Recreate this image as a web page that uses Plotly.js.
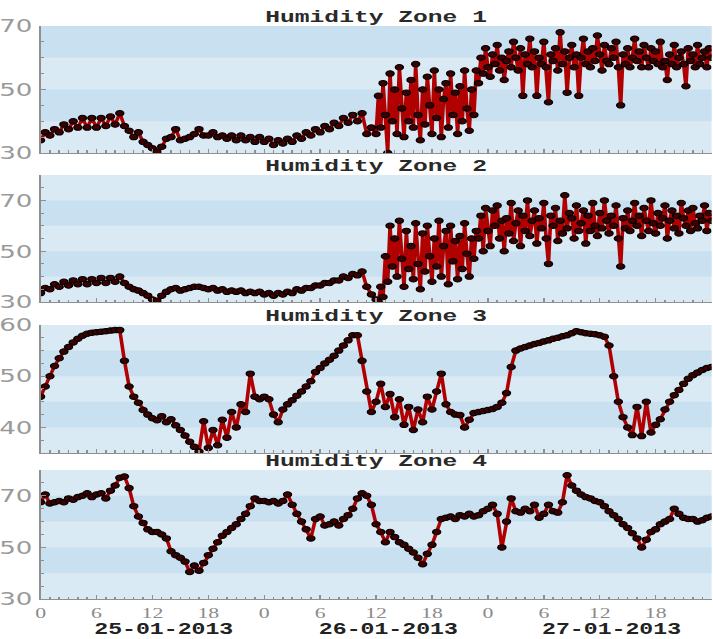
<!DOCTYPE html>
<html>
<head>
<meta charset="utf-8">
<script src="https://cdn.plot.ly/plotly-3.0.1.min.js"></script>
<style>
html,body{margin:0;padding:0;overflow:hidden;background:#ffffff;width:713px;height:639px;}
#chart{width:492px;height:639px;transform:scaleX(1.44919);transform-origin:0 0;}
</style>
</head>
<body>
<div id="chart"></div>
<script>
// ---------------- DATA ----------------
const zoneTitles = ['Humidity Zone 1', 'Humidity Zone 2', 'Humidity Zone 3', 'Humidity Zone 4'];
const dayLabels = ['25-01-2013', '26-01-2013', '27-01-2013'];
const hourTickValues = [0, 6, 12, 18, 24, 30, 36, 42, 48, 54, 60, 66, 72];
const hourTickLabels = ['0', '6', '12', '18', '0', '6', '12', '18', '0', '6', '12', '18', '0'];

// Zone 1: readings every 30 min from 0 h to 35.5 h
const zone1Calm = [
  34, 36.5, 35.5, 37.5, 36.5, 39, 37.5, 40, 38, 41, 38, 41, 38, 41, 38.5, 41.5,
  39, 42.5, 38.5, 37, 35, 36.5, 33.5, 32.5, 31.5, 30.5, 32, 34.5, 35, 37.5, 34, 34.5,
  35, 36, 37.5, 35.5, 35.5, 36.5, 35, 35.5, 34.5, 35.5, 34, 35.5, 34, 35, 33.5, 35,
  33.5, 34.5, 32.5, 34, 33, 34.5, 33.5, 35.5, 34.5, 36.5, 35.5, 37.5, 36.5, 38.5, 37.5, 39.5,
  38.5, 41, 39.5, 42, 40, 42.5, 36, 38
];
// Zone 1: readings every 15 min from 36 h to 72 h
const zone1Noisy = [
  36, 48, 38, 52,  42, 30, 55, 40,  50, 36, 57, 44,  35, 49, 40, 53,
  38, 58, 42, 34,  50, 39, 54, 45,  36, 56, 41, 50,  35, 47, 52, 38,
  55, 42, 49, 36,  51, 40, 56, 44,  37, 50, 42, 56,  52, 60, 55, 63,
  57, 54, 61, 58,  64, 56, 60, 53,  59, 62, 57, 65,  60, 56, 63, 48,
  61, 58, 66, 57,  62, 48, 60, 58,  65, 57, 46, 61,  59, 63, 56, 68,
  58, 62, 49, 60,  64, 57, 61, 48,  60, 66, 58, 62,  57, 63, 59, 67,
  61, 56, 64, 59,  58, 63, 60, 65,  57, 45, 61, 58,  63, 57, 60, 66,
  59, 62, 57, 64,  60, 57, 63, 59,  62, 58, 65, 57,  59, 53, 61, 58,
  64, 57, 60, 62,  58, 51, 63, 59,  61, 57, 64, 58,  60, 62, 57, 63,
  60
];

// Zone 2: readings every 30 min from 0 h to 35.5 h
const zone2Calm = [
  33.5, 35.5, 35, 37, 36, 38, 36.5, 38.5, 37, 39, 37, 39, 37.5, 39.5, 37.5, 39.5,
  38, 40, 37.5, 36, 35, 34.5, 33.5, 32.5, 31, 30.5, 32.5, 34, 35, 35.5, 34.5, 35,
  35.5, 36, 36, 35.5, 35, 35.5, 34.5, 35, 34, 34.5, 34, 34.5, 33.5, 34, 33.5, 34,
  33, 33.5, 32.5, 33.5, 33, 34, 33.5, 35, 34.5, 35.5, 35.5, 36.5, 36.5, 37.5, 37.5, 38.5,
  38.5, 40, 39.5, 41, 40.5, 42, 36, 33
];
// Zone 2: readings every 15 min from 36 h to 72 h
const zone2Noisy = [
  31, 30, 36, 32,  48, 38, 60, 44,  55, 40, 62, 47,  36, 58, 43, 52,
  39, 61, 45, 35,  57, 42, 60, 48,  38, 55, 44, 62,  40, 52, 58, 37,
  60, 46, 54, 39,  56, 43, 61, 49,  40, 55, 47, 58,  55, 64, 50, 67,
  58, 52, 66, 60,  68, 55, 62, 50,  63, 57, 69, 54,  61, 66, 52, 64,
  58, 70, 56, 62,  66, 53, 63, 59,  69, 55, 45, 64,  60, 67, 54, 62,
  57, 72, 59, 65,  63, 55, 68, 58,  61, 66, 53, 64,  58, 69, 60, 56,
  65, 59, 70, 62,  57, 64, 60, 68,  55, 44, 63, 59,  66, 58, 62, 69,
  60, 64, 56, 67,  62, 58, 70, 61,  57, 65, 60, 63,  68, 55, 62, 66,
  59, 64, 57, 69,  63, 60, 66, 58,  67, 61, 59, 64,  62, 68, 58, 65,
  62
];

// Zone 3: readings every 30 min from 0 h to 72 h
const zone3 = [
  46, 48, 50, 52, 53.5, 54.8, 55.7, 56.6, 57.3, 57.9, 58.3, 58.5, 58.6, 58.7, 58.8, 58.9,
  59, 59, 53, 48, 46, 44.8, 43.4, 42.5, 41.8, 41.4, 42.2, 41, 41.6, 40.4, 39.5, 38.4,
  37.2, 36.2, 35.3, 41.2, 36, 39.5, 36.5, 41.5, 38, 43, 40, 44.5, 43, 50.5, 46, 45.5,
  46, 45.5, 42.5, 41, 43.5, 44.5, 45.3, 46.2, 47, 48, 49, 50.8, 51.6, 52.5, 53.2, 54,
  55, 56, 57, 58, 58, 53, 47, 43, 45, 48.5, 44, 46.5, 42, 45.5, 40.5, 44,
  39.5, 43.5, 41, 46, 43.5, 47, 50.5, 44.5, 43, 42.5, 42.4, 40, 41.5, 42.8, 43, 43.2,
  43.4, 43.6, 44, 44.8, 46.7, 51.8, 55, 55.4, 55.7, 56, 56.3, 56.5, 56.8, 57, 57.3, 57.5,
  57.8, 58, 58.4, 58.8, 58.6, 58.4, 58.3, 58.2, 58, 57.7, 56, 50, 45, 42, 40, 38.5,
  44, 38.3, 45, 39, 40.5, 41.6, 43.5, 45, 46.3, 47.3, 48.5, 49.5, 50.2, 50.7, 51.2, 51.6,
  51.8
];

// Zone 4: readings every 30 min from 0 h to 72 h
const zone4 = [
  67.5, 70.5, 67, 67.5, 68, 67.5, 69, 68.5, 69.5, 70, 71, 69.5, 70.5, 71, 69, 72,
  74, 77, 77.5, 73, 66, 62, 59.5, 57, 56, 56, 55, 53.5, 48.5, 47, 46, 44.5,
  40.5, 43, 41, 44, 47, 49.5, 52, 54.5, 56, 57.5, 59, 61, 63, 66, 69, 68,
  68, 67.5, 68, 67, 68, 70.5, 66.5, 63, 60, 57, 53.5, 61, 62, 58.5, 59, 60,
  58.5, 61, 62.5, 65, 69, 71, 70, 66.5, 59, 56, 52, 56, 54, 52, 51, 49.5,
  48, 46, 43.5, 47.5, 51, 56, 61, 61.5, 62, 61, 62.5, 62, 63, 62, 62.5, 64,
  65, 66.5, 63, 50, 60, 69, 64, 63.5, 65, 64, 66.5, 61.5, 63, 66.5, 64, 63.5,
  67.5, 78, 74, 72, 70.5, 69.5, 69, 68, 67.5, 66, 64, 62.5, 61, 59, 57.5, 55.5,
  53.5, 50, 53, 56, 57, 59, 60, 61, 65, 63, 61.5, 61, 61, 60, 60.5, 61.5,
  62
];

// Axis settings per panel
const yRanges = [[30, 70], [30, 80], [35, 60], [30, 80]];
const yTickValues = [[30, 50, 70], [30, 50, 70], [40, 50, 60], [30, 50, 70]];
const yMinorSteps = [5, 5, 2.5, 5];
// darker background stripes per panel: [from, to]
const darkBands = [
  [[40, 50], [60, 70]],
  [[40, 50], [60, 70]],
  [[40, 45], [50, 55]],
  [[40, 50], [60, 70]]
];

// ---------------- BUILD ----------------
function sampleTimes(start, step, count) {
  const t = [];
  for (let i = 0; i < count; i++) t.push(start + i * step);
  return t;
}

const series = [
  { t: sampleTimes(0, 0.5, zone1Calm.length).concat(sampleTimes(36, 0.25, zone1Noisy.length)), v: zone1Calm.concat(zone1Noisy) },
  { t: sampleTimes(0, 0.5, zone2Calm.length).concat(sampleTimes(36, 0.25, zone2Noisy.length)), v: zone2Calm.concat(zone2Noisy) },
  { t: sampleTimes(0, 0.5, zone3.length), v: zone3 },
  { t: sampleTimes(0, 0.5, zone4.length), v: zone4 }
];

const domains = [[0.7784, 1], [0.5183, 0.7400], [0.2548, 0.4782], [0, 0.2251]];
const lightBg = '#d9eaf5';
const darkBg = '#c8e0ef';
const axisGrey = '#8f8f8f';

const traces = [];
const layout = {
  width: 492,
  height: 639,
  margin: { l: 28, r: 1, t: 26, b: 40 },
  paper_bgcolor: '#ffffff',
  plot_bgcolor: lightBg,
  showlegend: false,
  shapes: [],
  annotations: []
};

series.forEach((s, i) => {
  const n = i + 1;
  const xa = 'x' + (n === 1 ? '' : n);
  const ya = 'y' + (n === 1 ? '' : n);
  traces.push({
    type: 'scatter',
    mode: 'lines+markers',
    x: s.t,
    y: s.v,
    xaxis: xa,
    yaxis: ya,
    line: { color: '#b00000', width: 2.5 },
    marker: { size: 5.5, color: '#3c0000', line: { color: '#000000', width: 1 } },
    hoverinfo: 'x+y'
  });
  const xKey = 'xaxis' + (n === 1 ? '' : n);
  const yKey = 'yaxis' + (n === 1 ? '' : n);
  layout[xKey] = {
    anchor: ya,
    domain: [0, 1],
    range: [0, 72],
    tickmode: 'array',
    tickvals: hourTickValues,
    ticktext: hourTickLabels,
    showticklabels: n === 4,
    ticks: 'inside',
    ticklen: 4,
    tickcolor: axisGrey,
    minor: { dtick: 1, ticks: 'inside', ticklen: 2.5, tickcolor: axisGrey },
    showline: true,
    linecolor: axisGrey,
    linewidth: 1,
    showgrid: false,
    zeroline: false,
    ticklabelstandoff: 0,
    tickfont: { family: 'Liberation Serif, serif', size: 15, color: '#8a8a8a' },
    fixedrange: true
  };
  if (n > 1) layout[xKey].matches = 'x';
  layout[yKey] = {
    anchor: xa,
    domain: domains[i],
    range: yRanges[i],
    tickmode: 'array',
    tickvals: yTickValues[i],
    ticks: 'inside',
    ticklen: 4,
    tickcolor: axisGrey,
    minor: { dtick: yMinorSteps[i], ticks: 'inside', ticklen: 2.5, tickcolor: axisGrey },
    showline: true,
    linecolor: axisGrey,
    linewidth: 1,
    showgrid: false,
    zeroline: false,
    ticklabelstandoff: 1,
    tickfont: { family: 'DejaVu Sans, sans-serif', size: 18, color: '#9a9a9a' },
    fixedrange: true
  };
  darkBands[i].forEach(b => {
    layout.shapes.push({
      type: 'rect', layer: 'below',
      xref: xa + ' domain', yref: ya,
      x0: 0, x1: 1, y0: b[0], y1: b[1],
      fillcolor: darkBg, line: { width: 0 }
    });
  });
  layout.annotations.push({
    text: zoneTitles[i],
    xref: 'paper', yref: 'paper',
    x: 0.5, y: domains[i][1],
    xanchor: 'center', yanchor: 'bottom',
    yshift: -3,
    showarrow: false,
    font: { family: 'Liberation Mono, Courier New, monospace', size: 17, color: '#2a2a2a', weight: 'bold' }
  });
});

dayLabels.forEach((d, k) => {
  layout.annotations.push({
    text: '<b>' + d + '</b>',
    xref: 'x4', yref: 'paper',
    x: 12 + 24 * k, y: 0,
    xanchor: 'center', yanchor: 'top',
    xshift: 8, yshift: -20,
    showarrow: false,
    font: { family: 'Liberation Mono, Courier New, monospace', size: 16, color: '#222222' }
  });
});

Plotly.newPlot('chart', traces, layout, { displayModeBar: false, staticPlot: true });
</script>
</body>
</html>
